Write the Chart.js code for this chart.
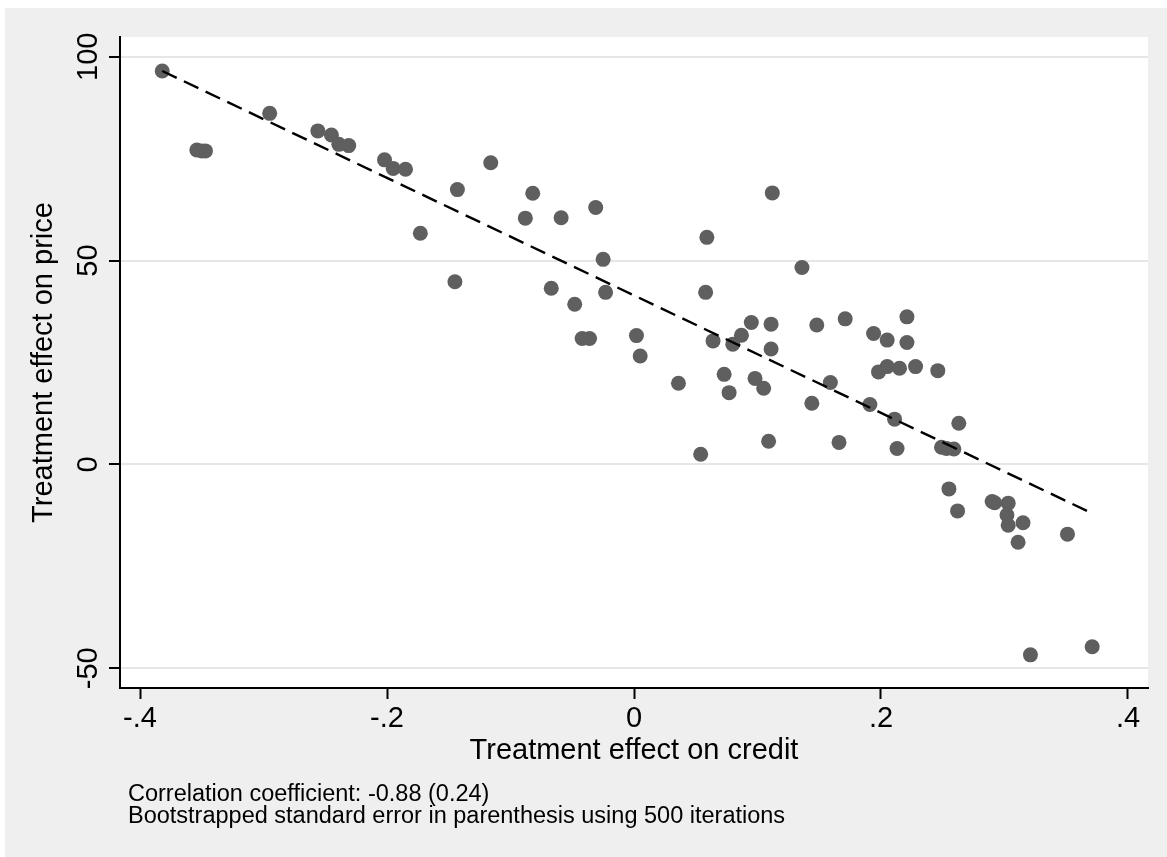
<!DOCTYPE html>
<html>
<head>
<meta charset="utf-8">
<title>Treatment effect on price vs credit</title>
<script src="https://cdn.jsdelivr.net/npm/chart.js@4.4.1/dist/chart.umd.min.js"></script>
<style>
  html, body { margin: 0; padding: 0; background: #fff; }
  canvas { display: block; }
</style>
</head>
<body>
<canvas id="scatter" width="1167" height="857"></canvas>
<script>
// one entry per unit: estimated effect on credit (x) and on price (y)
const creditEffect = [
  -0.382, -0.354, -0.350, -0.347, -0.295, -0.256, -0.245, -0.239, -0.231, -0.202,
  -0.195, -0.185, -0.143, -0.173, -0.145, -0.116, -0.082, -0.088, -0.059, -0.031,
  -0.025, -0.023, -0.067, -0.048, -0.042, -0.036, 0.002, 0.005, 0.036, 0.054,
  0.059, 0.058, 0.064, 0.080, 0.087, 0.095, 0.073, 0.077, 0.098, 0.105,
  0.111, 0.111, 0.109, 0.112, 0.136, 0.148, 0.171, 0.159, 0.144, 0.166,
  0.191, 0.211, 0.213, 0.194, 0.205, 0.221, 0.221, 0.198, 0.205, 0.215,
  0.228, 0.246, 0.263, 0.249, 0.253, 0.259, 0.255, 0.262, 0.290, 0.292,
  0.303, 0.302, 0.303, 0.315, 0.311, 0.351, 0.321, 0.371
];
const priceEffect = [
  96.5, 77.1, 76.9, 76.9, 86.1, 81.8, 80.8, 78.5, 78.2, 74.7,
  72.6, 72.4, 67.4, 56.7, 44.8, 74.0, 66.5, 60.4, 60.5, 63.0,
  50.3, 42.2, 43.2, 39.3, 30.9, 30.9, 31.6, 26.6, 19.9, 2.5,
  55.7, 42.2, 30.3, 29.5, 31.7, 34.8, 22.1, 17.6, 21.1, 18.7,
  34.4, 28.3, 5.7, 66.6, 48.3, 34.2, 35.7, 20.1, 15.0, 5.4,
  14.7, 11.1, 3.9, 32.1, 30.5, 36.2, 29.9, 22.7, 24.0, 23.6,
  24.0, 23.0, 10.1, 4.2, 3.9, 3.8, -6.0, -11.4, -9.1, -9.4,
  -9.5, -12.4, -14.9, -14.3, -19.1, -17.1, -46.7, -44.7
];

// end points of the linear fit
const fitCredit = [-0.382, 0.371];
const fitPrice = [96.5, -12.0];

const xTicks = [-0.4, -0.2, 0, 0.2, 0.4];
const xTickLabels = ['-.4', '-.2', '0', '.2', '.4'];
const yTicks = [-50, 0, 50, 100];
const yTickLabels = ['-50', '0', '50', '100'];

const noteLines = [
  'Correlation coefficient: -0.88 (0.24)',
  'Bootstrapped standard error in parenthesis using 500 iterations'
];

const FONT = '"Liberation Sans", Arial, Helvetica, sans-serif';

// gray graph region, white plot region, rotated y labels and the note
const stataFrame = {
  id: 'stataFrame',
  beforeDraw(chart) {
    const { ctx, chartArea: a } = chart;
    ctx.save();
    ctx.fillStyle = '#ffffff';
    ctx.fillRect(0, 0, chart.width, chart.height);
    ctx.fillStyle = '#efefef';
    ctx.fillRect(5, 8, chart.width - 5, chart.height - 8);
    ctx.fillStyle = '#ffffff';
    ctx.fillRect(a.left, a.top, a.right - a.left, a.bottom - a.top);
    ctx.restore();
  },
  afterDraw(chart) {
    const { ctx, chartArea: a } = chart;
    const yScale = chart.scales.y;
    ctx.save();
    ctx.fillStyle = '#000';
    ctx.font = '29px ' + FONT;
    ctx.textAlign = 'center';
    ctx.textBaseline = 'alphabetic';
    yTicks.forEach((v, i) => {
      ctx.save();
      ctx.translate(a.left - 23, yScale.getPixelForValue(v));
      ctx.rotate(-Math.PI / 2);
      ctx.fillText(yTickLabels[i], 0, 0);
      ctx.restore();
    });
    ctx.font = '23.5px ' + FONT;
    ctx.textAlign = 'left';
    noteLines.forEach((t, i) => ctx.fillText(t, a.left + 8, 801 + i * 22));
    ctx.restore();
  }
};

const points = creditEffect.map((x, i) => ({ x: x, y: priceEffect[i] }));
const fitLine = fitCredit.map((x, i) => ({ x: x, y: fitPrice[i] }));

new Chart(document.getElementById('scatter'), {
  type: 'scatter',
  data: {
    datasets: [
      {
        label: 'Fitted values',
        data: fitLine,
        showLine: true,
        order: 0,
        borderColor: '#000',
        borderWidth: 2.4,
        borderDash: [16, 8],
        pointRadius: 0,
        fill: false
      },
      {
        label: 'Treatment effect on price',
        data: points,
        order: 1,
        pointRadius: 7.5,
        pointBackgroundColor: '#5f5f5f',
        pointBorderWidth: 0
      }
    ]
  },
  options: {
    responsive: false,
    animation: false,
    events: [],
    layout: { padding: { left: 5, top: 37, right: 19, bottom: 0 } },
    plugins: {
      legend: { display: false },
      tooltip: { enabled: false }
    },
    scales: {
      x: {
        type: 'linear',
        min: -0.4162,
        max: 0.4162,
        afterBuildTicks: s => { s.ticks = xTicks.map(v => ({ value: v })); },
        afterFit: s => { s.height = 169; },
        grid: { drawOnChartArea: false, drawTicks: true, tickLength: 11, tickColor: '#000', tickWidth: 2 },
        border: { color: '#000', width: 2 },
        ticks: {
          padding: 3,
          color: '#000',
          maxRotation: 0,
          font: { family: FONT, size: 29 },
          callback: v => xTickLabels[xTicks.indexOf(v)]
        },
        title: {
          display: true,
          text: 'Treatment effect on credit',
          color: '#000',
          font: { family: FONT, size: 29 },
          padding: { top: 0, bottom: 89 }
        }
      },
      y: {
        type: 'linear',
        min: -54.83,
        max: 104.83,
        afterBuildTicks: s => { s.ticks = yTicks.map(v => ({ value: v })); },
        afterFit: s => { s.width = 115; },
        grid: { color: '#e6e6e6', lineWidth: 2, drawTicks: true, tickLength: 11, tickColor: '#000', tickWidth: 2 },
        border: { color: '#000', width: 2 },
        ticks: { display: false },
        title: {
          display: true,
          text: 'Treatment effect on price',
          color: '#000',
          font: { family: FONT, size: 29 },
          padding: { top: 22, bottom: 0 }
        }
      }
    }
  },
  plugins: [stataFrame]
});
</script>
</body>
</html>
